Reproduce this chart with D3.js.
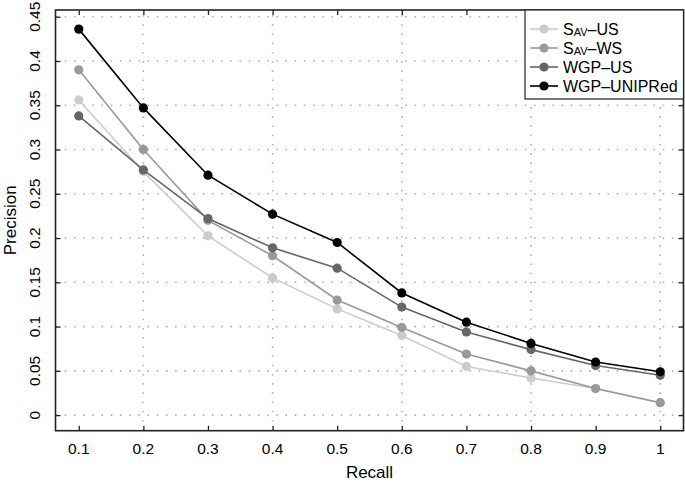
<!DOCTYPE html>
<html><head><meta charset="utf-8">
<script src="https://cdn.jsdelivr.net/npm/d3@7"></script>
<style>
body{margin:0;background:#fff;}
text{font-family:"Liberation Sans",Arial,Helvetica,sans-serif;fill:#000;}
</style></head>
<body><svg id="c" width="685" height="483"></svg>
<script>
const recall = [0.1,0.2,0.3,0.4,0.5,0.6,0.7,0.8,0.9,1.0];
const savUS  = [0.356,0.275,0.2025,0.155,0.120,0.090,0.055,0.042,0.030,0.014];
const savWS  = [0.390,0.300,0.220,0.180,0.130,0.099,0.069,0.050,0.030,0.014];
const wgpUS  = [0.338,0.277,0.222,0.189,0.166,0.122,0.094,0.074,0.056,0.045];
const wgpUNI = [0.436,0.347,0.271,0.227,0.195,0.138,0.105,0.081,0.060,0.049];
const seriesNames = ["SAV-US","SAV-WS","WGP-US","WGP-UNIPRed"];
const seriesColors = ["#cccccc","#999999","#666666","#000000"];
const xTicks = [0.1,0.2,0.3,0.4,0.5,0.6,0.7,0.8,0.9,1];
const xGrid = [0.2,0.4,0.6,0.8,1];
const yTicks = [0,0.05,0.1,0.15,0.2,0.25,0.3,0.35,0.4,0.45];
const yTickLabels = ["0","0.05","0.1","0.15","0.2","0.25","0.3","0.35","0.4","0.45"];

const series = [savUS, savWS, wgpUS, wgpUNI];
const svg = d3.select("#c");
const L=55.5, R=683.5, T=10, B=430.7;
const x = d3.scaleLinear().domain([0.064,1.036]).range([L,R]);
const y = d3.scaleLinear().domain([-0.0176,0.4576]).range([B,T]);

// grid
const g = svg.append("g");
g.selectAll("line.h").data(yTicks).join("line")
 .attr("x1",L).attr("x2",R).attr("y1",d=>y(d)).attr("y2",d=>y(d))
 .attr("stroke","#b0b0b0").attr("stroke-width",1.6).attr("stroke-dasharray","1.6,7.6");
g.selectAll("line.v").data(xGrid).join("line")
 .attr("y1",B).attr("y2",T).attr("x1",d=>x(d)).attr("x2",d=>x(d))
 .attr("stroke","#b0b0b0").attr("stroke-width",1.6).attr("stroke-dasharray","1.6,7.6");

// axes with inward ticks on all sides
const axB = d3.axisBottom(x).tickValues(xTicks).tickSize(-5).tickFormat("");
const axT = d3.axisTop(x).tickValues(xTicks).tickSize(-5).tickFormat("");
const axL = d3.axisLeft(y).tickValues(yTicks).tickSize(-5).tickFormat("");
const axR = d3.axisRight(y).tickValues(yTicks).tickSize(-5).tickFormat("");
[[axB,`translate(0,${B})`],[axT,`translate(0,${T})`],[axL,`translate(${L},0)`],[axR,`translate(${R},0)`]].forEach(([a,t])=>{
  const gg = svg.append("g").attr("transform",t).call(a);
  gg.select(".domain").remove();
  gg.selectAll(".tick line").attr("stroke","#222").attr("stroke-width",1.3);
});
svg.append("rect").attr("x",L).attr("y",T).attr("width",R-L).attr("height",B-T)
 .attr("fill","none").attr("stroke","#222").attr("stroke-width",1.6);

// tick labels
svg.append("g").selectAll("text").data(xTicks).join("text")
 .attr("x",d=>x(d)).attr("y",454).attr("text-anchor","middle").attr("font-size",15.5)
 .text(d=>d3.format("~g")(d));
svg.append("g").selectAll("text").data(yTicks).join("text")
 .attr("transform",d=>`translate(40,${y(d)}) rotate(-90)`).attr("text-anchor","middle").attr("font-size",15.5)
 .text((d,i)=>yTickLabels[i]);
svg.append("text").attr("x",(L+R)/2).attr("y",478).attr("text-anchor","middle").attr("font-size",17).text("Recall");
svg.append("text").attr("transform",`translate(15.5,${(T+B)/2}) rotate(-90)`).attr("text-anchor","middle").attr("font-size",17).text("Precision");

// series
const line = d3.line().x((d,i)=>x(recall[i])).y(d=>y(d));
series.forEach((s,k)=>{
  svg.append("path").datum(s).attr("d",line).attr("fill","none")
   .attr("stroke",seriesColors[k]).attr("stroke-width",1.6);
  svg.append("g").selectAll("circle").data(s).join("circle")
   .attr("cx",(d,i)=>x(recall[i])).attr("cy",d=>y(d)).attr("r",4.6)
   .attr("fill",seriesColors[k]);
});

// legend
const lg = svg.append("g");
lg.append("rect").attr("x",525).attr("y",T).attr("width",R-525).attr("height",89)
 .attr("fill","#fff").attr("stroke","#222").attr("stroke-width",1.2);
const ly = [29,48,67,86];
seriesNames.forEach((n,k)=>{
  lg.append("line").attr("x1",530).attr("x2",558).attr("y1",ly[k]).attr("y2",ly[k])
   .attr("stroke",seriesColors[k]).attr("stroke-width",1.6);
  lg.append("circle").attr("cx",544).attr("cy",ly[k]).attr("r",4.6).attr("fill",seriesColors[k]);
  const t = lg.append("text").attr("x",563).attr("y",ly[k]+5.5).attr("font-size",16);
  if(n.startsWith("SAV")){
    t.append("tspan").text("S");
    t.append("tspan").attr("font-size",11).attr("dy",1.5).text("AV");
    t.append("tspan").attr("dy",-1.5).text("\u2013"+n.split("-")[1]);
  } else {
    t.text(n.replace("-","\u2013"));
  }
});
</script></body></html>
